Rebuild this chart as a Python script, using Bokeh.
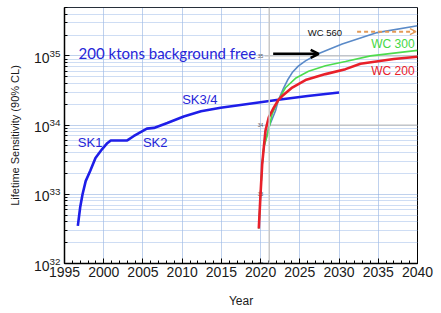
from bokeh.plotting import figure
from bokeh.models import (Label, Arrow, OpenHead, Span, FixedTicker, LogTickFormatter)
from bokeh.embed import file_html
from bokeh.resources import INLINE

# ---------------- data ----------------
sk_years = [1996.7, 1997.0, 1997.3, 1997.7, 1998.3, 1998.95, 1999.8, 2000.4, 2000.9,
            2003.0, 2003.8, 2005.5, 2006.4, 2008.1, 2010.2, 2012.4, 2014.9,
            2022.5, 2026.0, 2030.0]
sk_vals = [3.5e32, 6.5e32, 1.0e33, 1.55e33, 2.2e33, 3.35e33, 4.5e33, 5.4e33, 6.0e33,
           6.0e33, 6.9e33, 8.9e33, 9.1e33, 1.07e34, 1.33e34, 1.58e34, 1.78e34,
           2.34e34, 2.63e34, 2.95e34]

wc200_years = [2019.77, 2019.99, 2020.2, 2020.41, 2020.62, 2021.04, 2021.68,
               2022.28, 2022.75, 2024.03, 2025.72, 2028.27, 2030.82, 2032.73,
               2036.98, 2040.0]
wc200_vals = [3.2e32, 1.0e33, 2.7e33, 4.8e33, 8.3e33, 1.29e34, 1.79e34,
              2.32e34, 2.63e34, 3.49e34, 4.47e34, 5.45e34, 6.43e34, 7.7e34,
              9.0e34, 9.7e34]

wc300_years = [2019.77, 2019.99, 2020.2, 2020.41, 2020.84, 2021.48, 2022.28,
               2023.17, 2024.45, 2026.11, 2028.27, 2030.82, 2034.01, 2040.0]
wc300_vals = [3.2e32, 1.0e33, 2.7e33, 4.8e33, 7.0e33, 1.45e34, 2.32e34,
              3.46e34, 4.74e34, 5.98e34, 7.18e34, 8.3e34, 1.0e35, 1.2e35]

wc560_years = [2019.77, 2019.99, 2020.2, 2020.41, 2021.04, 2021.9, 2022.28,
               2022.96, 2023.5, 2024.03, 2024.8, 2025.72, 2027.42, 2030.4,
               2034.86, 2040.0]
wc560_vals = [3.2e32, 1.0e33, 2.7e33, 4.8e33, 9.25e33, 1.61e34, 2.32e34,
              3.49e34, 4.6e34, 5.74e34, 7.1e34, 8.47e34, 1.08e35, 1.48e35,
              2.17e35, 2.73e35]

x_ticks = [1995, 2000, 2005, 2010, 2015, 2020, 2025, 2030, 2035, 2040]
x_minor = [y for y in range(1995, 2041)]
y_exponents = [32, 33, 34, 35]
y_ticks = [10.0 ** e for e in y_exponents]
y_minor = [m * 10.0 ** e for e in y_exponents for m in range(2, 10) if m * 10.0 ** e <= 5e35]

FONT = "Liberation Sans"

p = figure(width=438, height=311, x_range=(1995, 2040), y_range=(1e32, 5e35),
           y_axis_type="log", output_backend="svg", toolbar_location=None,
           min_border_left=64, min_border_right=21, min_border_top=7,
           min_border_bottom=48)
p.background_fill_color = "white"
p.border_fill_color = "white"
p.outline_line_color = "black"
p.outline_line_width = 1

# axes
p.xaxis.ticker = FixedTicker(ticks=x_ticks, minor_ticks=x_minor)
p.yaxis.ticker = FixedTicker(ticks=y_ticks, minor_ticks=y_minor)
p.yaxis.formatter = LogTickFormatter()
for ax in (p.xaxis[0], p.yaxis[0]):
    ax.axis_line_width = 1.5
    ax.axis_line_color = "black"
    ax.major_tick_in = 5
    ax.major_tick_out = 0
    ax.minor_tick_in = 3
    ax.minor_tick_out = 0
    ax.major_tick_line_color = "black"
    ax.minor_tick_line_color = "black"
    ax.major_label_text_font = FONT
    ax.major_label_text_color = "#1a1a1a"
    ax.axis_label_text_font = FONT
    ax.axis_label_text_font_style = "normal"
    ax.axis_label_text_color = "#1a1a1a"
p.xaxis.major_label_text_font_size = "14px"
p.xaxis.major_label_standoff = 3
p.xaxis.axis_label = "Year"
p.xaxis.axis_label_text_font_size = "12px"
p.xaxis.axis_label_standoff = 14

p.yaxis.major_label_text_font_size = "14px"
p.yaxis.major_label_standoff = 4
p.yaxis.axis_label = "Lifetime Sensitivity (90% CL)"
p.yaxis.axis_label_text_font_size = "11px"
p.yaxis.axis_label_standoff = 10

# grid
p.xgrid.grid_line_color = "#7ea2da"
p.xgrid.grid_line_dash = "1 1"
p.ygrid.grid_line_color = "#7ea2da"
p.ygrid.grid_line_dash = "1 1"
p.ygrid.minor_grid_line_color = "#9dbbe8"
p.ygrid.minor_grid_line_dash = "1 1"

# overlay frame lines of the pasted plot
p.add_layout(Span(location=2021.1, dimension="height", line_color="#c8c8c8", line_width=1.5))
p.segment(x0=[2020.5, 2020.5], y0=[1e35, 1e34], x1=[2040, 2040], y1=[1e35, 1e34],
          line_color="#c0c0c0", line_width=1.2)
p.text(x=[2020.0] * 4, y=y_ticks, text=[str(e) for e in y_exponents],
       text_font_size="5px", text_color="#555555", text_align="center",
       text_baseline="middle")

# curves
p.line(sk_years, sk_vals, line_color="#1e1ee8", line_width=2.6)
p.line(wc560_years, wc560_vals, line_color="#5a8ac8", line_width=1.6)
p.line(wc300_years, wc300_vals, line_color="#4ddc4d", line_width=1.6)
p.line(wc200_years, wc200_vals, line_color="#e8202a", line_width=2.6)

# annotations
def lab(x, y, t, color, size, font=FONT):
    p.add_layout(Label(x=x, y=y, text=t, text_align="left", text_baseline="middle",
                       text_font=font, text_font_size=size, text_color=color))

lab(1996.8, 1.1e35, "200 ktons background free", "#2525d8", "15px", "Lato")
lab(1996.7, 5.6e33, "SK1", "#2525d8", "13px")
lab(2005.0, 5.6e33, "SK2", "#2525d8", "13px")
lab(2010.0, 2.37e34, "SK3/4", "#2525d8", "13px")
lab(2026.0, 2.17e35, "WC 560", "#111111", "9.5px")
lab(2034.1, 1.49e35, "WC 300", "#44d844", "12px")
lab(2034.1, 6.1e34, "WC 200", "#e8202a", "12px")

p.add_layout(Arrow(end=OpenHead(size=8, line_width=2.5, line_color="black"),
                   x_start=2021.6, y_start=1.07e35, x_end=2027.4, y_end=1.07e35,
                   line_width=2.5, line_color="black"))
p.add_layout(Arrow(end=OpenHead(size=6, line_width=1.5, line_color="#e39a57"),
                   x_start=2032.3, y_start=2.24e35, x_end=2039.8, y_end=2.24e35,
                   line_width=2, line_color="#e39a57", line_dash="4 3"))

open("out.html", "w").write(file_html(p, INLINE))
